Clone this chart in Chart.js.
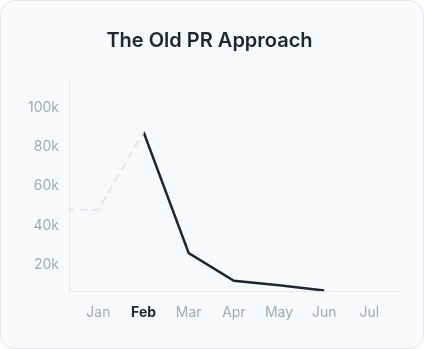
<!DOCTYPE html>
<html>
<head>
<meta charset="utf-8">
<script src="https://cdn.jsdelivr.net/npm/chart.js@4"></script>
<style>
  html, body { margin: 0; padding: 0; background: #ffffff; }
  .card {
    position: absolute; left: 0; top: 0;
    width: 422px; height: 347px;
    background: #f8f9fb;
    border: 1px solid #e5e7eb;
    border-radius: 14px;
    overflow: hidden;
  }
  #prChart { display: block; }
</style>
</head>
<body>
<div class="card">
  <canvas id="prChart" width="422" height="347"></canvas>
</div>
<script>
// chart data
const months = ['Jan', 'Feb', 'Mar', 'Apr', 'May', 'Jun', 'Jul'];
const highlightMonth = 'Feb';
// index -1 is the month before Jan (clipped at the left edge)
const buildUpX = [-1, 0, 1];
const buildUpValues = [48000, 48000, 87500];
const dropOffX = [1, 2, 3, 4, 5];
const dropOffValues = [87500, 26000, 12000, 9700, 7100];
const yTickValues = [20000, 40000, 60000, 80000, 100000];

const toPoints = (xs, ys) => xs.map((x, i) => ({ x: x, y: ys[i] }));

const gray = '#a3a9b5';
const dark = '#1f2533';

const ctx = document.getElementById('prChart').getContext('2d');
new Chart(ctx, {
    type: 'line',
    data: {
        datasets: [
            {
                data: toPoints(buildUpX, buildUpValues),
                borderColor: '#e3e5ea',
                borderWidth: 2,
                borderDash: [8, 5],
                pointRadius: 0,
                tension: 0
            },
            {
                data: toPoints(dropOffX, dropOffValues),
                borderColor: dark,
                borderWidth: 2.5,
                pointRadius: 0,
                tension: 0
            }
        ]
    },
    options: {
        responsive: false,
        animation: false,
        layout: { padding: { left: 17, right: 22, top: 0, bottom: 14 } },
        plugins: {
            legend: { display: false },
            tooltip: { enabled: false },
            title: {
                display: true,
                text: 'The Old PR Approach',
                color: dark,
                font: { family: 'Inter', size: 20, weight: '600' },
                padding: { top: 28, bottom: 27 }
            }
        },
        scales: {
            x: {
                type: 'linear',
                min: -0.65,
                max: 6.7,
                afterBuildTicks: (scale) => {
                    scale.ticks = months.map((m, i) => ({ value: i }));
                },
                grid: { display: false, drawTicks: false },
                border: { display: true, color: '#e6e8ec', width: 1 },
                ticks: {
                    padding: 13,
                    callback: (v) => months[v],
                    color: (c) => months[c.tick.value] === highlightMonth ? dark : gray,
                    font: (c) => ({
                        family: 'Inter',
                        size: 14,
                        weight: months[c.tick && c.tick.value] === highlightMonth ? '700' : '400'
                    })
                }
            },
            y: {
                min: 6700,
                max: 113900,
                afterBuildTicks: (scale) => {
                    scale.ticks = yTickValues.map(v => ({ value: v }));
                },
                grid: { display: false, drawTicks: false },
                border: { display: true, color: '#e6e8ec', width: 1 },
                ticks: {
                    padding: 10,
                    color: gray,
                    font: { family: 'Inter', size: 14 },
                    callback: (v) => (v / 1000) + 'k'
                }
            }
        }
    }
});
</script>
</body>
</html>
